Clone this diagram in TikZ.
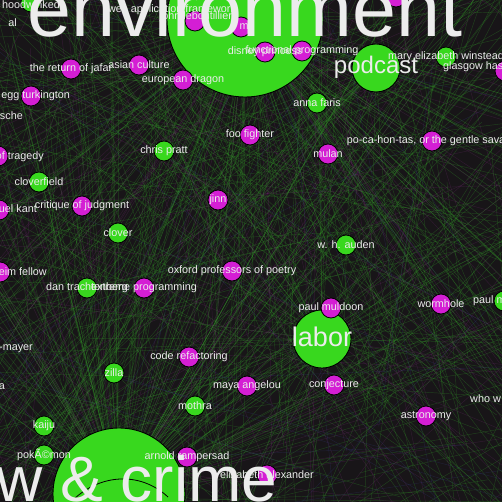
\documentclass[tikz,border=0pt]{standalone}
\usepackage{fontspec}
\setmainfont{Liberation Sans}
\definecolor{bg}{RGB}{24,21,24}
\definecolor{mag}{RGB}{212,30,212}
\definecolor{grn}{RGB}{56,216,30}
\definecolor{eg}{RGB}{50,150,40}
\definecolor{ep}{RGB}{125,45,125}
\definecolor{eb}{RGB}{55,65,140}
\definecolor{txt}{RGB}{236,236,236}
\tikzset{
  sm/.style={circle, draw=black, line width=0.8pt, minimum size=20pt, inner sep=0pt},
  mnode/.style={sm, fill=mag},
  gnode/.style={sm, fill=grn},
  bignode/.style={circle, draw=black, line width=0.9pt, fill=grn, inner sep=0pt},
  lbl/.style={text=txt, font=\fontsize{10.8}{12}\selectfont, inner sep=0pt},
  biglbl/.style={text=txt, inner sep=0pt, anchor=base},
  edgeg/.style={draw=eg, line width=0.45pt, opacity=0.34},
  edgep/.style={draw=ep, line width=0.45pt, opacity=0.25},
  edgeb/.style={draw=eb, line width=0.45pt, opacity=0.25},
}
\begin{document}
\begin{tikzpicture}[x=1pt,y=-1pt]
\useasboundingbox (0,0) rectangle (502,502);
\clip (0,0) rectangle (502,502);
\fill[bg] (-5,-5) rectangle (507,507);
% hub coordinates
\coordinate (lawc) at (119,494);
\coordinate (envc) at (245,19);
\coordinate (labc) at (322,339);
\coordinate (podc) at (376,68);
\pgfmathsetseed{4242}
% edges from hubs
\foreach \i in {1,...,120}{
  \pgfmathsetmacro\ax{rnd*900-200}
  \pgfmathsetmacro\ay{rnd*700-250}
  \coordinate (e) at (\ax,\ay);
  \draw[edgeg] (lawc) -- (e);
}
\foreach \i in {1,...,30}{
  \pgfmathsetmacro\ax{rnd*900-200}
  \pgfmathsetmacro\ay{rnd*700-250}
  \coordinate (e) at (\ax,\ay);
  \draw[edgep] (lawc) -- (e);
}
\foreach \i in {1,...,110}{
  \pgfmathsetmacro\ax{rnd*900-200}
  \pgfmathsetmacro\ay{rnd*500+100}
  \coordinate (e) at (\ax,\ay);
  \draw[edgeg] (envc) -- (e);
}
\foreach \i in {1,...,30}{
  \pgfmathsetmacro\ax{rnd*900-200}
  \pgfmathsetmacro\ay{rnd*500+100}
  \coordinate (e) at (\ax,\ay);
  \draw[edgep] (envc) -- (e);
}
\foreach \i in {1,...,50}{
  \pgfmathsetmacro\ax{rnd*900-200}
  \pgfmathsetmacro\ay{rnd*900-200}
  \coordinate (e) at (\ax,\ay);
  \draw[edgeg] (labc) -- (e);
}
\foreach \i in {1,...,40}{
  \pgfmathsetmacro\ax{rnd*900-200}
  \pgfmathsetmacro\ay{rnd*900-200}
  \coordinate (e) at (\ax,\ay);
  \draw[edgeg] (podc) -- (e);
}
% random cross edges
\foreach \i in {1,...,300}{
  \pgfmathsetmacro\ax{rnd*900-200}
  \pgfmathsetmacro\ay{rnd*900-200}
  \pgfmathsetmacro\bx{rnd*900-200}
  \pgfmathsetmacro\by{rnd*900-200}
  \coordinate (e1) at (\ax,\ay);
  \coordinate (e2) at (\bx,\by);
  \draw[edgeg] (e1) -- (e2);
}
\foreach \i in {1,...,110}{
  \pgfmathsetmacro\ax{rnd*900-200}
  \pgfmathsetmacro\ay{rnd*900-200}
  \pgfmathsetmacro\bx{rnd*900-200}
  \pgfmathsetmacro\by{rnd*900-200}
  \coordinate (e1) at (\ax,\ay);
  \coordinate (e2) at (\bx,\by);
  \draw[edgep] (e1) -- (e2);
}
\foreach \i in {1,...,45}{
  \pgfmathsetmacro\ax{rnd*900-200}
  \pgfmathsetmacro\ay{rnd*900-200}
  \pgfmathsetmacro\bx{rnd*900-200}
  \pgfmathsetmacro\by{rnd*900-200}
  \coordinate (e1) at (\ax,\ay);
  \coordinate (e2) at (\bx,\by);
  \draw[edgeb] (e1) -- (e2);
}
% big nodes
\node[bignode, minimum size=156pt] (env) at (envc) {};
\node[bignode, minimum size=132pt] (law) at (lawc) {};
\node[bignode, minimum size=58pt] (lab) at (labc) {};
\node[bignode, minimum size=48pt] (pod) at (podc) {};
% curve inside law & crime
\coordinate (ca) at (73,500);
\coordinate (cb) at (168,497);
\draw[black, line width=0.8pt] (ca) .. controls (100,474) and (140,471) .. (cb);
% small nodes
\node[gnode] (hood) at (31,2) {};
\node[mnode] (jafar) at (71,69) {};
\node[mnode] (asian) at (139,65) {};
\node[mnode] (eudragon) at (183,80) {};
\node[mnode] (gregg) at (31,96) {};
\node[mnode] (tragedy) at (-2,156) {};
\node[mnode] (foo) at (250,135) {};
\node[gnode] (chris) at (164,151) {};
\node[gnode] (anna) at (317,103) {};
\node[mnode] (mulan) at (328,154) {};
\node[mnode] (poca) at (432,141) {};
\node[gnode] (mary) at (446,57) {};
\node[mnode] (glas) at (505,71) {};
\node[gnode] (cloverfield) at (39,182) {};
\node[mnode] (kant) at (-1,210) {};
\node[mnode] (critique) at (82,206) {};
\node[gnode] (clover) at (118,233) {};
\node[mnode] (jinn) at (218,200) {};
\node[mnode] (fellow) at (0,272) {};
\node[gnode] (dan) at (87,288) {};
\node[mnode] (xp) at (144,288) {};
\node[mnode] (oxford) at (232,271) {};
\node[gnode] (auden) at (346,245) {};
\node[mnode] (muldoon) at (331,308) {};
\node[mnode] (wormhole) at (441,304) {};
\node[gnode] (paulm) at (504,301) {};
\node[mnode] (conj) at (334,385) {};
\node[mnode] (astro) at (426,416) {};
\node[mnode] (refac) at (189,357) {};
\node[mnode] (maya) at (247,386) {};
\node[gnode] (zilla) at (114,373) {};
\node[gnode] (mothra) at (195,406) {};
\node[gnode] (kaiju) at (44,426) {};
\node[gnode] (poke) at (44,455) {};
\node[mnode] (arnold) at (187,457) {};
\node[mnode] (eliz) at (267,475) {};
\node[mnode] (jleb) at (195,21) {};
\node[mnode] (imp) at (241,27) {};
\node[mnode] (disney) at (265,52) {};
\node[mnode] (func) at (302,51) {};
\node[mnode] (topm) at (396,-3) {};
% small labels
\node[lbl] at (31,5) {hoodwinked};
\node[lbl, anchor=east] at (17,23) {al};
\node[lbl] at (jafar) {the return of jafar};
\node[lbl] at (asian) {asian culture};
\node[lbl] at (eudragon) {european dragon};
\node[lbl, anchor=east] at (70,96) {egg turkington};
\node[lbl, anchor=east] at (23,116) {sche};
\node[lbl, anchor=east] at (44,157) {of tragedy};
\node[lbl] at (foo) {foo fighter};
\node[lbl] at (chris) {chris pratt};
\node[lbl] at (anna) {anna faris};
\node[lbl] at (mulan) {mulan};
\node[lbl] at (poca) {po-ca-hon-tas, or the gentle savage};
\node[lbl] at (mary) {mary elizabeth winstead};
\node[lbl, anchor=west] at (443,67) {glasgow has};
\node[lbl] at (cloverfield) {cloverfield};
\node[lbl, anchor=east] at (37,209) {uel kant};
\node[lbl] at (critique) {critique of judgment};
\node[lbl] at (clover) {clover};
\node[lbl] at (jinn) {jinn};
\node[lbl, anchor=east] at (47,272) {eim fellow};
\node[lbl] at (dan) {dan trachtenberg};
\node[lbl] at (xp) {extreme programming};
\node[lbl] at (oxford) {oxford professors of poetry};
\node[lbl] at (auden) {w. h. auden};
\node[lbl] at (muldoon) {paul muldoon};
\node[lbl] at (wormhole) {wormhole};
\node[lbl, anchor=west] at (473,301) {paul m};
\node[lbl] at (conj) {conjecture};
\node[lbl] at (astro) {astronomy};
\node[lbl, anchor=west] at (470,399) {who w};
\node[lbl] at (refac) {code refactoring};
\node[lbl] at (maya) {maya angelou};
\node[lbl, anchor=east] at (33,349) {-mayer};
\node[lbl, anchor=east] at (5,387) {a};
\node[lbl] at (zilla) {zilla};
\node[lbl] at (mothra) {mothra};
\node[lbl] at (kaiju) {kaiju};
\node[lbl] at (poke) {pokÃ©mon};
\node[lbl] at (arnold) {arnold rampersad};
\node[lbl] at (eliz) {elizabeth alexander};
\node[lbl] at (172,10) {web application framework};
\node[lbl] at (196,17) {john leboutillier};
\node[lbl] at (247,28) {mp};
\node[lbl] at (disney) {disney princess};
\node[lbl] at (func) {functional programming};
% big labels
\node[biglbl, font=\fontsize{79}{80}\selectfont] at (245,37) {environment};
\node[biglbl, font=\fontsize{64}{65}\selectfont] at (112,501) {law \& crime};
\node[biglbl, font=\fontsize{27}{28}\selectfont] at (322,346) {labor};
\node[biglbl, font=\fontsize{24}{25}\selectfont] at (376,74) {podcast};
\end{tikzpicture}
\end{document}
